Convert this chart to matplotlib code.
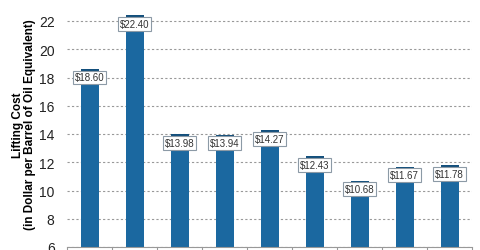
import matplotlib.pyplot as plt
import numpy as np

values = [18.60, 22.40, 13.98, 13.94, 14.27, 12.43, 10.68, 11.67, 11.78]
labels = ["$18.60", "$22.40", "$13.98", "$13.94", "$14.27", "$12.43", "$10.68", "$11.67", "$11.78"]
yticks = [6, 8, 10, 12, 14, 16, 18, 20, 22]

plt.rcParams['font.family'] = ['Liberation Sans', 'DejaVu Sans']

fig = plt.figure(figsize=(4.8, 2.51), dpi=100)
ax = fig.add_axes([67 / 480, 3 / 251, 405 / 480, 248 / 251])

x = np.arange(len(values))
bar_color = "#1b68a0"
cap_color = "#134f7c"

ax.bar(x, np.array(values) - 6, bottom=6, width=0.4, color=bar_color, zorder=2)
# darker cap on top of each bar
ax.bar(x, 0.2, bottom=np.array(values) - 0.2, width=0.4, color=cap_color, zorder=3)

for xi, v, lab in zip(x, values, labels):
    ax.text(xi, v - 0.6, lab, ha='center', va='center', fontsize=7, color='#333333', zorder=4,
            bbox=dict(boxstyle='square,pad=0.2', fc='white', ec='#8c9aa6', lw=0.8))

ax.set_xlim(-0.5, len(values) - 0.5)
ax.set_ylim(6, 6 + 248 / 14.125)
ax.set_yticks(yticks)
ax.tick_params(axis='y', length=0, labelsize=10, pad=9, colors='#222222')
ax.set_xticks(np.arange(len(values) + 1) - 0.5)
ax.set_xticklabels([])
ax.tick_params(axis='x', length=4, direction='out', color='#999999')
ax.yaxis.grid(True, linestyle=(0, (2, 2)), color='#999999', lw=0.8, zorder=0)

for s in ['left', 'top', 'right']:
    ax.spines[s].set_visible(False)
ax.spines['bottom'].set_color('#999999')

ax.set_ylabel("Lifting Cost\n(in Dollar per Barrel of Oil Equivalent)", fontsize=8.5,
              fontweight='bold', linespacing=1.05)
ax.yaxis.set_label_coords(-0.076, (126 - 3) / 248)

fig.savefig("out.png", dpi=100)
